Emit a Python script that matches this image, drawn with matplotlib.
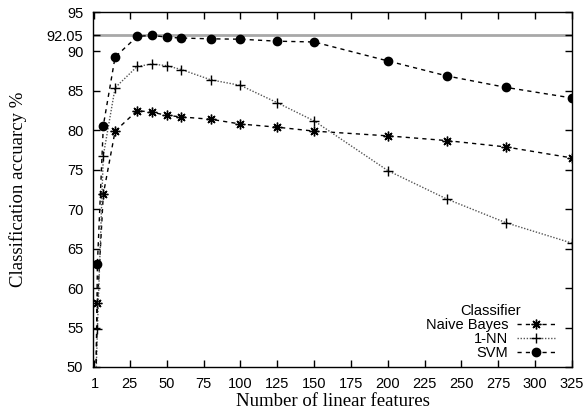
import matplotlib
matplotlib.use("Agg")
import matplotlib.pyplot as plt

features = [1, 3, 7, 15, 30, 40, 50, 60, 80, 100, 125, 150, 200, 240, 280, 325]
naive_bayes = [40.0, 58.1, 71.9, 79.9, 82.5, 82.3, 81.9, 81.7, 81.4, 80.8, 80.4, 79.9, 79.3, 78.7, 77.9, 76.5]
one_nn = [42.0, 54.8, 76.8, 85.4, 88.1, 88.4, 88.2, 87.7, 86.4, 85.7, 83.5, 81.2, 74.9, 71.3, 68.3, 65.7]
svm = [33.0, 63.1, 80.6, 89.3, 91.9, 92.05, 91.8, 91.7, 91.6, 91.55, 91.3, 91.2, 88.8, 86.9, 85.45, 84.1]
best = 92.05

xticks = [1, 25, 50, 75, 100, 125, 150, 175, 200, 225, 250, 275, 300, 325]
yticks = [50, 55, 60, 65, 70, 75, 80, 85, 90, 92.05, 95]
yticklabels = ["50", "55", "60", "65", "70", "75", "80", "85", "90", "92.05", "95"]

sans = "Liberation Sans"
serif = "Liberation Serif"

fig = plt.figure(figsize=(5.87, 4.12), dpi=100)
ax = fig.add_axes([93 / 587, 1 - 367 / 412, (572 - 93) / 587, (367 - 12) / 412])

ax.axhline(best, color="#a8a8a8", lw=2.0, zorder=1)

ax.plot(features, naive_bayes, color="black", lw=1.0, dashes=(3, 3),
        marker=(8, 2, 0), markersize=7, markeredgewidth=1.0, label="Naive Bayes", zorder=3)
ax.plot(features, one_nn, color="#555555", lw=1.0, dashes=(1, 1.2),
        marker="+", markersize=7, markeredgewidth=1.0, markeredgecolor="black",
        label="1-NN", zorder=3)
ax.plot(features, svm, color="black", lw=1.0, dashes=(3, 3),
        marker="o", markersize=6, label="SVM", zorder=3)

ax.set_xlim(0, 325)
ax.set_ylim(50, 95)
ax.set_xticks(xticks)
ax.set_xticklabels([str(t) for t in xticks], fontfamily=sans, fontsize=10.5)
ax.set_yticks(yticks)
ax.set_yticklabels(yticklabels, fontfamily=sans, fontsize=10.5)
ax.tick_params(direction="in", length=5, width=1, top=True, right=True)
ax.tick_params(axis="x", pad=7)
ax.tick_params(axis="y", pad=7)
for s in ax.spines.values():
    s.set_linewidth(1.0)

ax.set_xlabel("Number of linear features", fontfamily=serif, fontsize=13.5, labelpad=1.5)
ax.set_ylabel("Classification accuarcy %", fontfamily=serif, fontsize=13.5, labelpad=14)

leg = ax.legend(loc="lower right", bbox_to_anchor=(0.98, 0.0), frameon=False,
                markerfirst=False, title="Classifier", handlelength=2.6,
                handletextpad=0.6, labelspacing=0.0, borderpad=0.0,
                prop={"family": sans, "size": 10.5}, title_fontproperties={"family": sans, "size": 10.5})

fig.savefig("out.png", dpi=100)
